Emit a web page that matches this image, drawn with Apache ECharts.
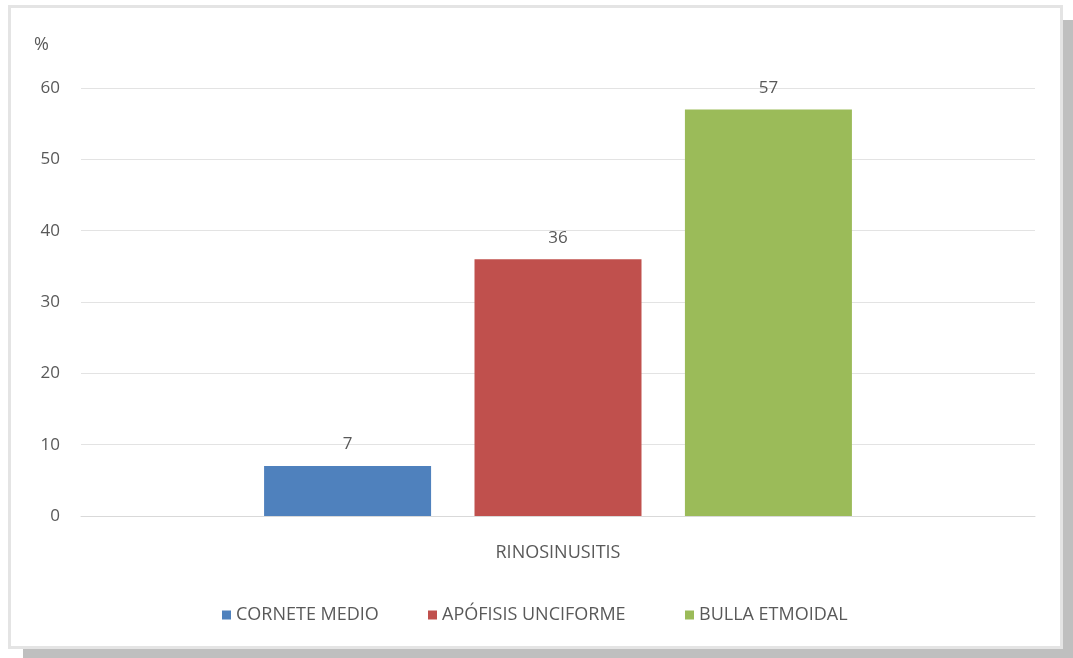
<!DOCTYPE html>
<html>
<head>
<meta charset="utf-8">
<script src="https://cdn.jsdelivr.net/npm/echarts@6/dist/echarts.min.js"></script>
<style>
  html, body { margin: 0; padding: 0; background: #ffffff; }
  #frame {
    position: absolute; left: 8px; top: 5px; width: 1049px; height: 638px;
    background: #ffffff; border: 3px solid #e4e4e4;
    box-shadow: 15px 15px 0 #bfbfbf;
  }
  #chart { position: absolute; left: 0; top: 0; width: 1073px; height: 658px; }
</style>
</head>
<body>
<div id="frame"></div>
<div id="chart"></div>
<script>
// Share of rhinosinusitis cases by anatomical site (%)
const categories = ['RINOSINUSITIS'];
const seriesNames = ['CORNETE MEDIO', 'APÓFISIS UNCIFORME', 'BULLA ETMOIDAL'];
const cornete = [7];
const apofisis = [36];
const bulla = [57];
const colors = ['#4F81BD', '#C0504D', '#9BBB59'];
const yTicks = { min: 0, max: 60, interval: 10 };

const font = '"Open Sans", sans-serif';
const textColor = '#595959';

const chart = echarts.init(document.getElementById('chart'), null, { renderer: 'canvas' });

function barSeries(name, data, color) {
  return {
    name: name,
    type: 'bar',
    data: data,
    barWidth: 167,
    barGap: '26%',
    itemStyle: { color: color },
    label: {
      show: true, position: 'top', distance: 13,
      color: textColor, fontFamily: font, fontSize: 17
    },
    emphasis: { disabled: true }
  };
}

// one legend entry per series, laid out in a single row below the axis
const legendLefts = [217, 423, 680];
function legendItem(name, left) {
  return {
    data: [name],
    left: left, top: 601,
    itemWidth: 9, itemHeight: 9,
    icon: 'rect',
    selectedMode: false,
    textStyle: { color: textColor, fontFamily: font, fontSize: 18 }
  };
}

chart.setOption({
  animation: false,
  title: {
    text: '%', left: 29, top: 31,
    textStyle: { color: textColor, fontFamily: font, fontSize: 18, fontWeight: 'normal' }
  },
  grid: { left: 81, right: 38, top: 88, bottom: 142, containLabel: false },
  legend: seriesNames.map((n, i) => legendItem(n, legendLefts[i])),
  xAxis: {
    type: 'category',
    data: categories,
    axisLine: { show: true, lineStyle: { color: '#d9d9d9', width: 1 } },
    axisTick: { show: false },
    axisLabel: { color: textColor, fontFamily: font, fontSize: 18, margin: 28 }
  },
  yAxis: {
    type: 'value',
    min: yTicks.min, max: yTicks.max, interval: yTicks.interval,
    axisLine: { show: false },
    axisTick: { show: false },
    splitLine: { lineStyle: { color: '#e3e3e3', width: 1 } },
    axisLabel: { color: textColor, fontFamily: font, fontSize: 17, margin: 21 }
  },
  series: [
    barSeries(seriesNames[0], cornete, colors[0]),
    barSeries(seriesNames[1], apofisis, colors[1]),
    barSeries(seriesNames[2], bulla, colors[2])
  ]
});
</script>
</body>
</html>
